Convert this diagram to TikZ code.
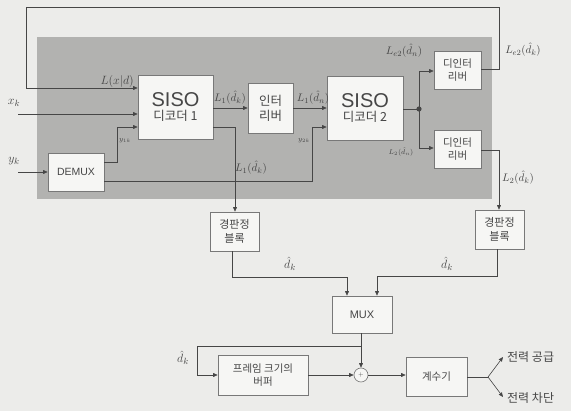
\documentclass[tikz,border=0pt]{standalone}
\usepackage{fontspec}
\newfontfamily\kr{Noto Sans CJK KR}
\newfontfamily\lat{Liberation Sans}
\usetikzlibrary{arrows.meta}
\definecolor{paper}{RGB}{236,236,234}
\definecolor{bggray}{RGB}{178,178,176}
\definecolor{ink}{RGB}{70,70,70}
\definecolor{edge}{RGB}{120,120,120}
\definecolor{boxfill}{RGB}{246,246,244}
\begin{document}
\begin{tikzpicture}[x=1pt,y=-1pt,
  line/.style={draw=ink,line width=0.6pt},
  arr/.style={line,-{Triangle[length=4.5pt,width=3.8pt]}},
  blk/.style={draw=edge,fill=boxfill,line width=0.6pt,inner sep=0pt,align=center,text=ink},
  lab/.style={text=ink,inner sep=0pt,font=\fontsize{11}{11}\selectfont}]
\useasboundingbox (0,0) rectangle (571,411);
\fill[paper] (0,0) rectangle (571,411);
\fill[bggray] (37,37) rectangle (492,199);
% blocks
\node[blk,minimum width=75pt,minimum height=64pt,font=\kr\fontsize{12.5}{12.5}\selectfont] (s1) at (175.5,107)
  {{\lat\fontsize{20}{20}\selectfont SISO}\\[1pt]디코더 1};
\node[blk,minimum width=45pt,minimum height=50pt,font=\kr\fontsize{12.5}{15}\selectfont] (il) at (270.5,108)
  {인터\\리버};
\node[blk,minimum width=76pt,minimum height=64pt,font=\kr\fontsize{12.5}{12.5}\selectfont] (s2) at (365,108)
  {{\lat\fontsize{20}{20}\selectfont SISO}\\[1pt]디코더 2};
\node[blk,minimum width=47pt,minimum height=38pt,font=\kr\fontsize{10.5}{13}\selectfont] (d1) at (457.5,70)
  {디인터\\리버};
\node[blk,minimum width=47pt,minimum height=38pt,font=\kr\fontsize{10.5}{13}\selectfont] (d2) at (457.5,149)
  {디인터\\리버};
\node[blk,minimum width=56pt,minimum height=38pt,font=\lat\fontsize{10.5}{10.5}\selectfont] (dm) at (76,172)
  {DEMUX};
\node[blk,minimum width=49pt,minimum height=39pt,font=\kr\fontsize{11}{14}\selectfont] (h1) at (234.5,231.5)
  {경판정\\블록};
\node[blk,minimum width=49pt,minimum height=39pt,font=\kr\fontsize{11}{14}\selectfont] (h2) at (499.5,229.5)
  {경판정\\블록};
\node[blk,minimum width=60pt,minimum height=37pt,font=\lat\fontsize{11}{11}\selectfont] (mx) at (362,314.5)
  {MUX};
\node[blk,minimum width=90pt,minimum height=40pt,font=\kr\fontsize{10.5}{13.5}\selectfont] (bf) at (263,375)
  {프레임 크기의\\버퍼};
\node[blk,circle,minimum size=14pt,font=\fontsize{6}{6}\selectfont] (sm) at (361,375) {+};
\node[blk,minimum width=61pt,minimum height=39pt,font=\kr\fontsize{10.5}{13}\selectfont] (ct) at (436.5,376.5)
  {계수기};
% coordinates
\coordinate (dot) at (419,109);
\coordinate (fbr) at (499,7);
\coordinate (fbl) at (26,7);
\coordinate (xk) at (18,114);
\coordinate (yk) at (18,172);
\coordinate (br) at (361,346);
\coordinate (sp) at (488,377);
\coordinate (pu) at (503,357);
\coordinate (pd) at (503,397);
\fill[ink] (dot) circle (2.6pt);
% connectors
\draw[arr] (d1.east |- 0,69) -| (fbr) -- (fbl) |- (s1.west |- 0,88);
\draw[arr] (xk) -- (s1.west |- xk);
\draw[arr] (yk) -- (dm.west |- yk);
\draw[arr] (dm.east |- 0,162) -| (117,127) -- (s1.west |- 0,127);
\draw[arr] (dm.east |- 0,181) -| (312,127) -- (s2.west |- 0,127);
\draw[arr] (s1.east |- 0,108) -- (il.west |- 0,108);
\draw[arr] (il.east |- 0,108) -- (s2.west |- 0,108);
\draw[line] (s2.east |- dot) -- (dot);
\draw[arr] (dot) |- (d1.west |- 0,71);
\draw[arr] (dot) |- (d2.west |- 0,148);
\draw[arr] (s1.east |- 0,127) -| (h1.north -| 235,0);
\draw[arr] (d2.east |- 0,150) -| (h2.north -| 499,0);
\draw[arr] (h1.south -| 232,0) |- (347,277) -- (mx.north -| 347,0);
\draw[arr] (h2.south -| 497,0) |- (377,276) -- (mx.north -| 377,0);
\draw[arr] (mx.south -| br) -- (sm.north);
\draw[arr] (br) -| (197,375) -- (bf.west);
\draw[arr] (bf.east) -- (sm.west);
\draw[arr] (sm.east) -- (ct.west |- sm);
\draw[line] (ct.east |- sp) -- (sp);
\draw[arr] (sp) -- (pu);
\draw[arr] (sp) -- (pd);
% labels
\node[lab,anchor=base east,font=\fontsize{12.5}{12.5}\selectfont] (lx) at (134,85) {$L(x|d)$};
\node[lab,font=\fontsize{12.5}{12.5}\selectfont] (lxk) at (14,103) {$x_k$};
\node[lab,font=\fontsize{12.5}{12.5}\selectfont] (lyk) at (14,161) {$y_k$};
\node[lab,font=\fontsize{7.5}{7.5}\selectfont] (ly1) at (125,141) {$y_{1k}$};
\node[lab,font=\fontsize{7.5}{7.5}\selectfont] (ly2) at (304,141) {$y_{2k}$};
\node[lab] (l1a) at (230,98) {$L_1(\hat{d}_k)$};
\node[lab] (l1b) at (313,98) {$L_1(\hat{d}_n)$};
\node[lab] (l1c) at (251,168) {$L_1(\hat{d}_k)$};
\node[lab] (le2) at (404,51) {$L_{e2}(\hat{d}_n)$};
\node[lab] (le2k) at (523,50) {$L_{e2}(\hat{d}_k)$};
\node[lab,font=\fontsize{7}{7}\selectfont] (l2a) at (401,152) {$L_2(\hat{d}_n)$};
\node[lab] (l2b) at (518,178) {$L_2(\hat{d}_k)$};
\node[lab,font=\fontsize{13}{13}\selectfont] (dka) at (290,264) {$\hat{d}_k$};
\node[lab,font=\fontsize{13}{13}\selectfont] (dkb) at (447,264) {$\hat{d}_k$};
\node[lab,font=\fontsize{13}{13}\selectfont] (dkc) at (183,358) {$\hat{d}_k$};
\node[lab,anchor=west,font=\kr\fontsize{12}{12}\selectfont] (pw1) at (507,357) {전력 공급};
\node[lab,anchor=west,font=\kr\fontsize{12}{12}\selectfont] (pw2) at (507,398) {전력 차단};
\end{tikzpicture}
\end{document}
